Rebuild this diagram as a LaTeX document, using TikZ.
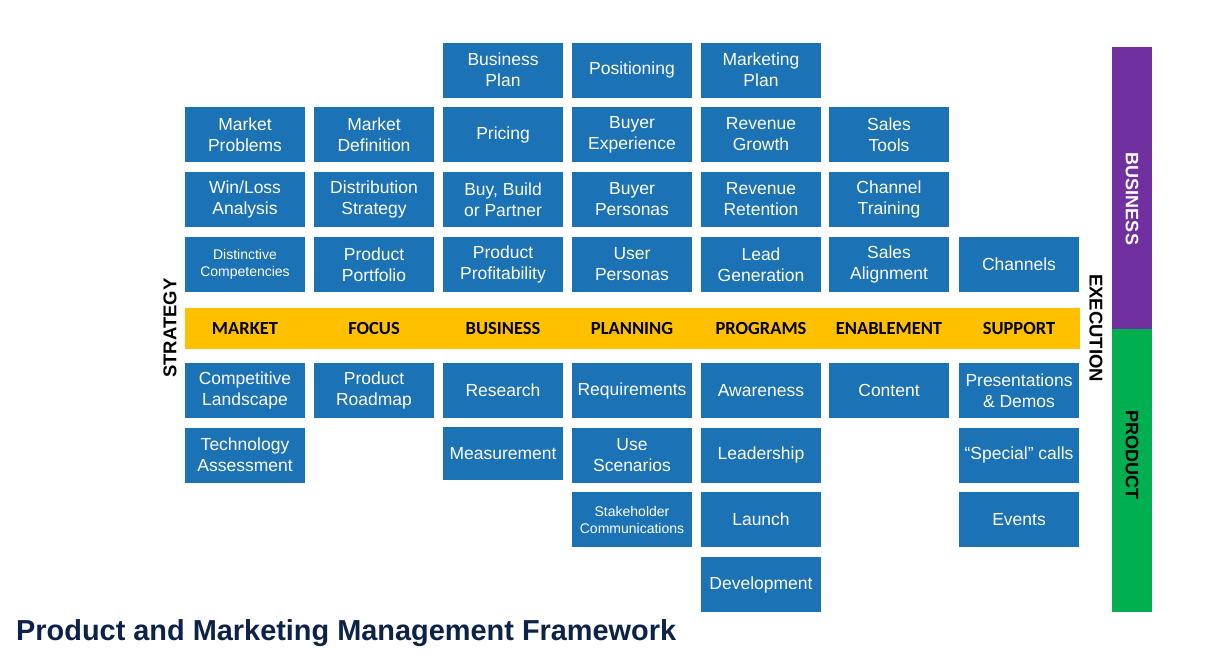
\documentclass[tikz,border=0pt]{standalone}
\usepackage{fontspec}
\setmainfont{Liberation Sans}
\newfontfamily\calfont{Carlito}
\definecolor{boxblue}{RGB}{27,114,180}
\definecolor{baryellow}{RGB}{255,192,0}
\definecolor{barpurple}{RGB}{112,48,160}
\definecolor{bargreen}{RGB}{0,176,80}
\definecolor{titlenavy}{RGB}{12,34,72}
\tikzset{
  bx/.style={fill=boxblue, draw=none, text=white, minimum width=120pt, minimum height=55pt,
    inner sep=0pt, align=center, font=\fontsize{17.5}{21}\selectfont},
  bxs/.style={bx, font=\fontsize{14}{17}\selectfont},
  lab/.style={text=black, inner sep=0pt, font=\calfont\bfseries\fontsize{18.5}{20}\selectfont},
  side/.style={inner sep=0pt, font=\bfseries\fontsize{18.5}{20}\selectfont},
}
\begin{document}
\begin{tikzpicture}[x=1pt,y=-1pt]
\useasboundingbox (0,0) rectangle (1230,656);
% row A
\node[bx] (bplan) at (503,70) {Business\\Plan};
\node[bx] (posit) at (632,70) {Positioning};
\node[bx] (mplan) at (761,70) {Marketing\\Plan};
% row B
\node[bx] (mprob) at (245,134.5) {Market\\Problems};
\node[bx] (mdef) at (374,134.5) {Market\\Definition};
\node[bx] (pric) at (503,134.5) {Pricing};
\node[bx] (bexp) at (632,134.5) {Buyer\\Experience};
\node[bx] (rgrow) at (761,134.5) {Revenue\\Growth};
\node[bx] (stools) at (889,134.5) {Sales\\Tools};
% row C
\node[bx] (winloss) at (245,199.5) {Win/Loss\\Analysis};
\node[bx] (dist) at (374,199.5) {Distribution\\Strategy};
\node[bx] (bbp) at (503,199.5) {Buy, Build\\or Partner};
\node[bx] (bpers) at (632,199.5) {Buyer\\Personas};
\node[bx] (rret) at (761,199.5) {Revenue\\Retention};
\node[bx] (ctrain) at (889,199.5) {Channel\\Training};
% row D
\node[bxs] (dcomp) at (245,264.5) {Distinctive\\Competencies};
\node[bx] (pport) at (374,264.5) {Product\\Portfolio};
\node[bx] (pprof) at (503,264.5) {Product\\Profitability};
\node[bx] (upers) at (632,264.5) {User\\Personas};
\node[bx] (lgen) at (761,264.5) {Lead\\Generation};
\node[bx] (salign) at (889,264.5) {Sales\\Alignment};
\node[bx] (chan) at (1019,264.5) {Channels};
% yellow bar
\fill[baryellow] (185,308) rectangle (1080,349);
\node[lab] (lmarket) at (245,328.5) {MARKET};
\node[lab] (lfocus) at (374,328.5) {FOCUS};
\node[lab] (lbus) at (503,328.5) {BUSINESS};
\node[lab] (lplan) at (632,328.5) {PLANNING};
\node[lab] (lprog) at (761,328.5) {PROGRAMS};
\node[lab] (lenab) at (889,328.5) {ENABLEMENT};
\node[lab] (lsupp) at (1019,328.5) {SUPPORT};
% row E
\node[bx] (complan) at (245,390.5) {Competitive\\Landscape};
\node[bx] (proad) at (374,390.5) {Product\\Roadmap};
\node[bx] (res) at (503,390.5) {Research};
\node[bx] (req) at (632,390.5) {Requirements};
\node[bx] (aware) at (761,390.5) {Awareness};
\node[bx] (cont) at (889,390.5) {Content};
\node[bx] (pres) at (1019,390.5) {Presentations\\\& Demos};
% row F
\node[bx] (tech) at (245,455) {Technology\\Assessment};
\node[bx, minimum height=53pt] (meas) at (503,453.5) {Measurement};
\node[bx] (use) at (632,455) {Use\\Scenarios};
\node[bx] (lead) at (761,455) {Leadership};
\node[bx] (spec) at (1019,455) {“Special” calls};
% row G
\node[bxs] (stake) at (632,519.5) {Stakeholder\\Communications};
\node[bx] (launch) at (761,519.5) {Launch};
\node[bx] (events) at (1019,519.5) {Events};
% row H
\node[bx] (dev) at (761,584.5) {Development};
% side labels
\node[side, rotate=90] (strat) at (170,328) {STRATEGY};
\node[side, rotate=-90] (exec) at (1096,328) {EXECUTION};
% right bar
\fill[barpurple] (1112,47) rectangle (1152,329);
\fill[bargreen] (1112,329) rectangle (1152,612);
\node[side, text=white, rotate=-90, font=\bfseries\fontsize{18}{20}\selectfont] (busl) at (1132,199) {BUSINESS};
\node[side, text=black, rotate=-90, font=\bfseries\fontsize{18}{20}\selectfont] (prodl) at (1132,455) {PRODUCT};
% title
\node[anchor=base west, inner sep=0pt, text=titlenavy, font=\bfseries\fontsize{28.9}{30}\selectfont] (title) at (16,640.5) {Product and Marketing Management Framework};
\end{tikzpicture}
\end{document}
